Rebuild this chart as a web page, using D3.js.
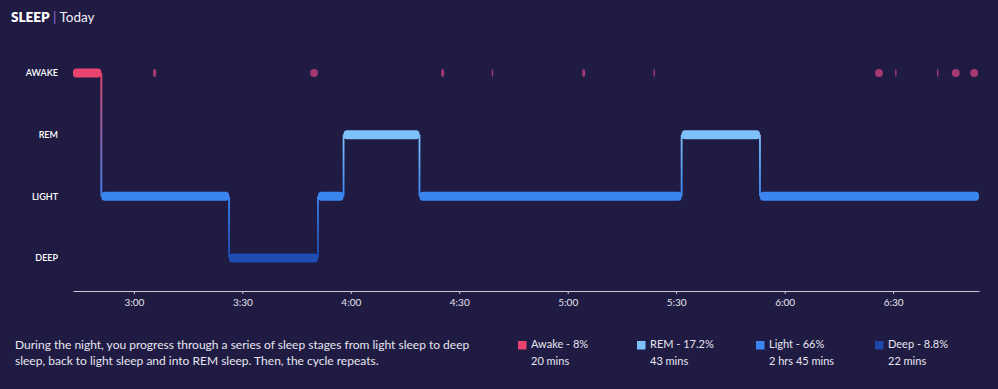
<!DOCTYPE html>
<html>
<head>
<meta charset="utf-8">
<script src="https://cdn.jsdelivr.net/npm/d3@7"></script>
<style>
  html, body { margin: 0; padding: 0; background: #201b43; }
  body { width: 998px; height: 389px; overflow: hidden; font-family: Lato, "Open Sans", sans-serif; }
  svg text { font-family: Lato, "Open Sans", sans-serif; }
</style>
</head>
<body>
<div id="chart"></div>
<script>
// --- DATA ---
const stages = ["AWAKE", "REM", "LIGHT", "DEEP"];
const stageColors = ["#e9446f", "#7fc2fb", "#3b85f1", "#1e4db3"];

// main hypnogram segments: stage, start, end
const segStage = ["AWAKE", "LIGHT", "DEEP", "LIGHT", "REM", "LIGHT", "REM", "LIGHT"];
const segStart = ["02:43:10", "02:51:00", "03:26:20", "03:50:55", "03:58:00", "04:19:00", "05:31:30", "05:53:10"];
const segEnd   = ["02:51:00", "03:26:20", "03:50:55", "03:58:00", "04:19:00", "05:31:30", "05:53:10", "06:53:45"];

// short awake blips on the top row: centre time, duration (seconds)
const blipTime = ["03:05:45", "03:49:50", "04:25:25", "04:39:10", "05:04:25", "05:23:55", "06:26:05", "06:30:45", "06:42:20", "06:47:20", "06:52:25"];
const blipDur  = [55, 130, 50, 25, 50, 25, 130, 25, 25, 130, 130];

const tickTimes = ["03:00:00", "03:30:00", "04:00:00", "04:30:00", "05:00:00", "05:30:00", "06:00:00", "06:30:00"];
const domainTimes = ["02:43:10", "06:53:45"];

const legendNames = ["Awake - 8%", "REM - 17.2%", "Light - 66%", "Deep - 8.8%"];
const legendDur = ["20 mins", "43 mins", "2 hrs 45 mins", "22 mins"];
const legendColors = ["#e9446f", "#7fc2fb", "#3b85f1", "#1f47a9"];

const descLines = [
  "During the night, you progress through a series of sleep stages from light sleep to deep",
  "sleep, back to light sleep and into REM sleep. Then, the cycle repeats."
];

// --- SETUP ---
const parseT = d3.timeParse("%H:%M:%S");
const width = 998, height = 389;

const svg = d3.select("#chart").append("svg")
  .attr("width", width).attr("height", height)
  .style("display", "block");

svg.append("rect").attr("width", width).attr("height", height).attr("fill", "#201b43");

// Title
const title = svg.append("text").attr("x", 11).attr("y", 22)
  .style("font-size", "13.5px").attr("fill", "#ffffff");
title.append("tspan").text("SLEEP").style("font-weight", "800");
title.append("tspan").text(" | ").attr("fill", "#9a6cd6").style("font-weight", "400");
title.append("tspan").text("Today").style("font-weight", "400").attr("fill", "#f0f0f6");

// Scales
const x = d3.scaleTime()
  .domain(domainTimes.map(parseT))
  .range([73, 979]);

const y = d3.scalePoint()
  .domain(stages)
  .range([73, 258]);

const color = d3.scaleOrdinal().domain(stages).range(stageColors);

// Y labels
svg.append("g")
  .attr("transform", "translate(58,0)")
  .call(d3.axisLeft(y).tickSize(0).tickPadding(0))
  .call(g => g.select(".domain").remove())
  .selectAll("text")
  .attr("fill", "#ffffff")
  .style("font-size", "9px")
  .style("font-weight", "600");

// X axis
const xAxis = svg.append("g")
  .attr("transform", "translate(0,291)")
  .call(d3.axisBottom(x)
    .tickValues(tickTimes.map(parseT))
    .tickFormat(d3.timeFormat("%-H:%M"))
    .tickSize(3)
    .tickSizeOuter(0)
    .tickPadding(5));
xAxis.select(".domain").attr("stroke", "#c8c8d8").attr("stroke-width", 1);
xAxis.selectAll(".tick line").attr("stroke", "#c8c8d8");
xAxis.selectAll("text").attr("fill", "#e4e4ee").style("font-size", "10px");

// Segments
const segments = segStage.map((s, i) => ({
  stage: s, start: parseT(segStart[i]), end: parseT(segEnd[i])
}));

const defs = svg.append("defs");
const barH = 9;

// vertical transitions with colour gradient
segments.slice(1).forEach((d, i) => {
  const prev = segments[i];
  const xx = x(d.start);
  const id = "grad" + i;
  const g = defs.append("linearGradient").attr("id", id)
    .attr("gradientUnits", "userSpaceOnUse")
    .attr("x1", xx).attr("x2", xx)
    .attr("y1", y(prev.stage)).attr("y2", y(d.stage));
  g.append("stop").attr("offset", "0%").attr("stop-color", color(prev.stage));
  g.append("stop").attr("offset", "100%").attr("stop-color", color(d.stage));
  svg.append("rect")
    .attr("x", xx - 0.9)
    .attr("y", Math.min(y(prev.stage), y(d.stage)))
    .attr("width", 1.8)
    .attr("height", Math.abs(y(d.stage) - y(prev.stage)))
    .attr("fill", `url(#${id})`);
});

svg.selectAll(".seg")
  .data(segments).enter().append("rect")
  .attr("class", "seg")
  .attr("x", d => x(d.start))
  .attr("width", d => x(d.end) - x(d.start))
  .attr("y", d => y(d.stage) - barH / 2)
  .attr("height", barH)
  .attr("rx", 3.5)
  .attr("fill", d => color(d.stage));

// Awake blips
const blips = blipTime.map((t, i) => {
  const c = parseT(t);
  return { start: new Date(+c - blipDur[i] * 500), end: new Date(+c + blipDur[i] * 500) };
});
svg.selectAll(".blip")
  .data(blips).enter().append("rect")
  .attr("class", "blip")
  .attr("x", d => x(d.start))
  .attr("width", d => x(d.end) - x(d.start))
  .attr("y", y("AWAKE") - 4)
  .attr("height", 8)
  .attr("rx", 4)
  .attr("fill", "#b53c78")
  .attr("opacity", 0.9);

// Description
svg.append("g").selectAll("text")
  .data(descLines).enter().append("text")
  .attr("x", 15)
  .attr("y", (d, i) => 348.5 + i * 16.7)
  .attr("fill", "#e6e6f0")
  .style("font-size", "12px")
  .text(d => d);

// Legend
const legendX = [518, 637, 756, 875];
const legend = svg.append("g").selectAll("g")
  .data(legendNames).enter().append("g")
  .attr("transform", (d, i) => `translate(${legendX[i]},0)`);
legend.append("rect")
  .attr("y", 341).attr("width", 8.5).attr("height", 8.5)
  .attr("fill", (d, i) => legendColors[i]);
legend.append("text")
  .attr("x", 13).attr("y", 348)
  .attr("fill", "#e6e6f0").style("font-size", "11px")
  .text(d => d);
legend.append("text")
  .attr("x", 13).attr("y", 365)
  .attr("fill", "#e6e6f0").style("font-size", "11px")
  .text((d, i) => legendDur[i]);
</script>
</body>
</html>
